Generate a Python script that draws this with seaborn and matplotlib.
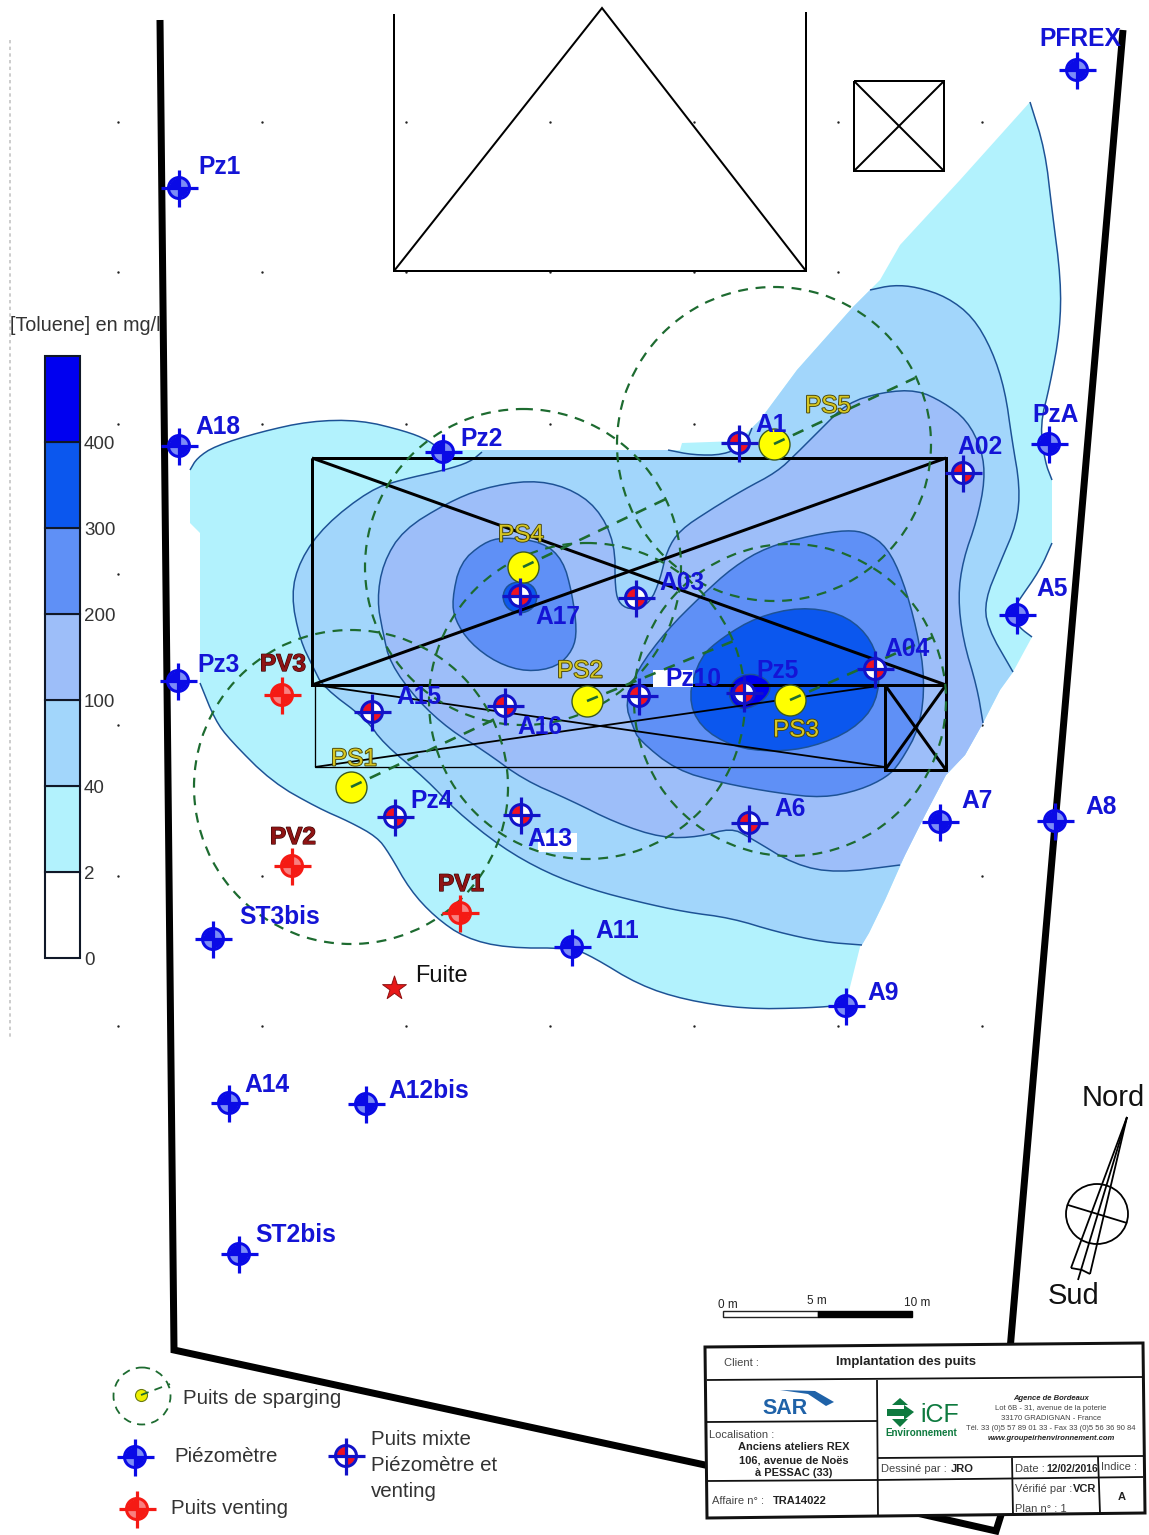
import numpy as np
import pandas as pd
import matplotlib
matplotlib.use("Agg")
import matplotlib.pyplot as plt
import matplotlib.patheffects as pe
from matplotlib.patches import Circle, Ellipse, Polygon, Rectangle
from matplotlib.path import Path
from matplotlib.transforms import ScaledTranslation
import seaborn as sns

# ---------- data (site plan coordinates) ----------
PIEZO_NAMES = ["PFREX","Pz1","A18","Pz2","PzA","Pz3","A5","A7","A8","ST3bis","A11","A9","A14","A12bis","ST2bis"]
PIEZO_X = [1077,179,179,443,1049,178,1017,940,1055,213,572,846,229,366,239]
PIEZO_Y = [70,188,446,452,444,681,615,822,821,939,947,1006,1103,1104,1254]
PIEZO_LX = [1040,199,196,461,1033,198,1037,962,1086,240,596,868,245,389,256]
PIEZO_LY = [37,166,425,437,414,664,587,799,806,916,929,991,1083,1089,1234]

MIXED_NAMES = ["A1","A02","A17","A03","A04","A15","A16","Pz10","Pz5","Pz4","A13","A6"]
MIXED_X = [739,963,520,636,875,372,505,639,744,395,521,749]
MIXED_Y = [443,473,596,598,669,712,706,696,693,817,815,823]
MIXED_LX = [756,958,536,660,885,397,518,666,757,411,528,775]
MIXED_LY = [423,445,616,582,647,696,726,678,669,800,838,808]

VENT_NAMES = ["PV3","PV2","PV1"]
VENT_X = [282,292,460]
VENT_Y = [695,866,913]
VENT_LX = [261,271,439]
VENT_LY = [663,836,883]

SPARGE_NAMES = ["PS1","PS2","PS3","PS4","PS5"]
SPARGE_X = [351,587,790,523,774]
SPARGE_Y = [787,701,700,567,444]
SPARGE_LX = [332,558,774,499,806]
SPARGE_LY = [758,670,729,534,405]
SPARGE_RADIUS = [157,158,156,158,157]
SPARGE_END_X = [510,736,933,670,915]
SPARGE_END_Y = [712,640,637,497,378]

GRID_X = [118,262,406,550,694,838,982]
GRID_Y = [122,272,424,574,725,876,1026]

LEVEL_LABELS = ["0","2","40","100","200","300","400"]
LEVEL_COLORS = ["#FFFFFF","#B2F2FD","#A2D6FB","#9DBEF9","#5F90F6","#0B57EE","#0000F0"]

C2_TOP = [(190,470),(197,458),(215,446),(260,432),(310,421),(360,420),(405,431),(428,440),(443,452)]
E2_TOP = [(443,450),(680,450),(682,443),(738,441),(760,420),(797,370),(853,307),(880,280),(900,245),(960,180),(1030,102)]
C2_RIGHT = [(1030,102),(1045,150),(1052,210),(1061,280),(1060,330),(1050,385),(1040,425),(1045,462),(1052,480)]
E2_RIGHT = [(1052,480),(1052,543)]
C2_A5 = [(1052,543),(1040,570),(1017,603),(1010,615),(1020,628),(1032,637)]
E_SOUTHEAST = [(1032,637),(1013,672),(1000,690),(983,723),(965,755),(946,775),(925,815),(905,855),(885,900),(869,933),(860,947),(855,967),(846,1003)]
C2_BOTTOM = [(846,1005),(809,1008),(745,1009),(685,1000),(639,985),(593,957),(572,948),(506,948),(465,938),(435,917),(410,890),(389,853),(377,837),(350,822),(318,808),(272,782),(230,740),(215,720),(200,683)]
E2_LEFT = [(200,683),(200,533),(190,523),(190,470)]

C40_LEFT = [(482,452),(470,462),(445,470),(400,480),(370,490),(325,525),(300,560),(291,595),(300,640),(313,667),(323,687),(367,720),(383,743),(427,780),(455,810),(501,847),(547,873),(593,890),(639,902),(685,912),(731,918),(777,932),(823,942),(862,945)]
E40_EAST = [(862,945),(869,933),(885,900),(905,855),(925,815),(946,775),(965,755),(983,723),(1000,690),(1013,672)]
C40_RIGHT = [(1013,672),(987,627),(985,600),(1000,563),(1017,523),(1020,487),(1012,440),(1005,390),(992,350),(973,317),(947,297),(917,287),(893,285),(870,290)]
E40_DIAG = [(870,290),(853,307),(797,370),(760,420),(752,428)]
C40_TOP = [(752,428),(745,445),(723,455),(693,455),(668,450)]
E40_TOP = [(668,450),(482,450)]

C100 = [(983,723),(977,687),(963,640),(958,597),(963,560),(977,520),(985,480),(982,450),(967,420),(943,402),(917,390),(883,392),(847,403),(820,430),(797,453),(777,472),(743,490),(710,510),(680,530),(667,550),(660,580),(650,603),(633,610),(620,605),(615,590),(615,543),(597,507),(567,487),(530,480),(483,488),(447,503),(403,530),(383,563),(377,600),(383,633),(390,663),(417,700),(450,730),(483,750),(524,780),(570,800),(616,823),(662,838),(699,837),(731,828),(749,837),(795,865),(837,873),(900,865)]
E100 = [(900,865),(925,815),(946,775),(965,755),(983,723)]

C200_WEST = [(452,600),(460,563),(483,543),(503,537),(543,542),(563,560),(572,593),(577,630),(573,650),(557,667),(527,672),(497,663),(470,643),(455,620)]
C200_EAST = [(847,530),(813,535),(767,547),(733,567),(700,597),(667,630),(637,670),(625,703),(633,727),(639,740),(676,770),(722,783),(777,793),(823,798),(860,790),(887,777),(900,763),(920,727),(925,680),(917,630),(903,580),(887,547),(867,533)]
C300 = [(688,697),(700,657),(723,637),(757,617),(800,607),(840,613),(867,633),(880,663),(877,703),(853,730),(813,747),(773,752),(733,747),(700,727)]
C300_A17 = [(502,597),(507,585),(520,581),(533,585),(538,597),(533,609),(520,614),(507,609)]
C400 = [(728,692),(735,678),(752,673),(768,680),(771,690),(762,702),(745,710),(733,705)]

# ---------- helpers ----------
PX = 0.72          # points per pixel at dpi 100
SANS = ["Liberation Sans", "DejaVu Sans"]

def smooth(points, closed=False, n=2):
    p = np.asarray(points, float)
    for _ in range(n):
        if closed:
            q = np.roll(p, -1, axis=0)
            p = np.column_stack([0.75*p + 0.25*q, 0.25*p + 0.75*q]).reshape(-1, 2)
        else:
            a, b = p[:-1], p[1:]
            mid = np.column_stack([0.75*a + 0.25*b, 0.25*a + 0.75*b]).reshape(-1, 2)
            p = np.vstack([p[:1], mid, p[-1:]])
    return p

sns.set_theme(style="white")
plt.rcParams["font.family"] = SANS
fig = plt.figure(figsize=(11.49, 15.35), dpi=100, facecolor="white")
ax = fig.add_axes([0, 0, 1, 1])

def txt(x, y, s, size=10, color="#222222", weight="normal", style="normal",
        ha="left", va="center", z=30, stroke=None, sw=0.9):
    t = ax.text(x - 1, y + 1.5, s, fontsize=size, color=color, fontweight=weight, fontstyle=style,
                ha=ha, va=va, zorder=z, family=SANS)
    if stroke:
        t.set_path_effects([pe.withStroke(linewidth=sw, foreground=stroke)])
    return t

def line(points, color="black", px=2.5, z=10, **kw):
    p = np.asarray(points, float)
    ax.plot(p[:, 0], p[:, 1], color=color, lw=px*PX, zorder=z,
            solid_capstyle="butt", solid_joinstyle="miter", **kw)

QUAD = Path.make_compound_path(Path.wedge(90, 180), Path.wedge(270, 360))

def well(xs, ys, main, fill, backing, z=14):
    df = pd.DataFrame({"x": xs, "y": ys})
    sns.scatterplot(data=df, x="x", y="y", ax=ax, marker="o", s=(19*PX)**2, color=backing,
                    edgecolor="none", linewidth=0, legend=False, zorder=z)
    sns.scatterplot(data=df, x="x", y="y", ax=ax, marker=QUAD, s=(19*PX)**2, color=fill,
                    edgecolor="none", linewidth=0, legend=False, zorder=z+0.1)
    sns.scatterplot(data=df, x="x", y="y", ax=ax, marker="o", s=(21*PX)**2, facecolor="none",
                    edgecolor=main, linewidth=3*PX, legend=False, zorder=z+0.2)
    sns.scatterplot(data=df, x="x", y="y", ax=ax, marker="+", s=(37*PX)**2, color=main,
                    linewidth=3.2*PX, legend=False, zorder=z+0.3)

# ---------- survey grid ----------
gx, gy = np.meshgrid(GRID_X, GRID_Y)
sns.scatterplot(x=gx.ravel(), y=gy.ravel(), ax=ax, s=3, color="#222222", linewidth=0,
                legend=False, zorder=1)

# ---------- concentration zones ----------
CONTOUR = dict(color="#1D5295", px=1.5, z=9)

def zone(pieces, level, z):
    """pieces: (points, is_curve); curves are smoothed and outlined, cut edges are not."""
    parts = []
    for pts, is_curve in pieces:
        p = smooth(pts) if is_curve else np.asarray(pts, float)
        parts.append(p)
        if is_curve:
            line(p, **CONTOUR)
    ax.add_patch(Polygon(np.vstack(parts), closed=True, facecolor=LEVEL_COLORS[level],
                         edgecolor="none", zorder=z))

def blob(points, level, z):
    p = smooth(points, closed=True)
    ax.add_patch(Polygon(p, closed=True, facecolor=LEVEL_COLORS[level],
                         edgecolor=CONTOUR["color"], lw=1.5*PX, zorder=z))

zone([(C2_TOP,1),(E2_TOP,0),(C2_RIGHT,1),(E2_RIGHT,0),(C2_A5,1),(E_SOUTHEAST,0),(C2_BOTTOM,1),(E2_LEFT,0)], 1, 2)
zone([(C40_LEFT,1),(E40_EAST,0),(C40_RIGHT,1),(E40_DIAG,0),(C40_TOP,1),(E40_TOP,0)], 2, 3)
zone([(C100,1),(E100,0)], 3, 4)
blob(C200_WEST, 4, 5)
blob(C200_EAST, 4, 5)
blob(C300, 5, 6)
blob(C300_A17, 5, 6)
blob(C400, 6, 7)

# ---------- site boundary ----------
line([(160,20),(174,1350),(705,1465),(996,1531),(1001,1515)], px=7, z=10)
line([(1123,30),(1010,1350)], px=7, z=10)

# ---------- buildings ----------
line([(394,14),(394,271),(806,271),(806,12)], px=2)
line([(394,271),(602,8),(806,271)], px=2)
line([(854,81),(944,81),(944,171),(854,171),(854,81)], px=2)
line([(854,81),(944,171)], px=2)
line([(944,81),(854,171)], px=2)
line([(312,458),(946,458),(946,685),(312,685),(312,458)], px=3)
line([(312,458),(946,685)], px=3)
line([(312,685),(946,458)], px=3)
line([(315,685),(315,767),(885,767)], px=1.3)
line([(315,685),(885,767)], px=1.8)
line([(315,767),(885,685)], px=1.8)
line([(885,685),(946,685),(946,770),(885,770),(885,685)], px=3)
line([(885,685),(946,770)], px=3)
line([(946,685),(885,770)], px=3)

# white label backings
ax.add_patch(Rectangle((653,670),40,17,facecolor="white",edgecolor="none",zorder=11))
ax.add_patch(Rectangle((538,833),39,19,facecolor="white",edgecolor="none",zorder=11))

# ---------- sparging influence circles ----------
GREEN = "#1D6B30"
DASH = (0,(4.5,3.5))
for cx, cy, r in zip(SPARGE_X, SPARGE_Y, SPARGE_RADIUS):
    ax.add_patch(Circle((cx, cy), r, facecolor="none", edgecolor=GREEN, lw=2.2*PX, linestyle=DASH, zorder=12))
sns.scatterplot(x=SPARGE_X, y=SPARGE_Y, ax=ax, s=(31*PX)**2, color="#FFFF00", edgecolor="#3C5A1E",
                linewidth=1, legend=False, zorder=13)
for cx, cy, ex, ey in zip(SPARGE_X, SPARGE_Y, SPARGE_END_X, SPARGE_END_Y):
    ax.plot([cx, ex], [cy, ey], color=GREEN, lw=2.6*PX, linestyle=DASH, zorder=13.5)

# ---------- wells ----------
well(PIEZO_X, PIEZO_Y, "#0A0AE6", "#0A0AE6", "#7C8CF6")
well(MIXED_X, MIXED_Y, "#1212C8", "#EE1122", "#FFFFFF")
well(VENT_X, VENT_Y, "#F51A14", "#F51A14", "#F88080")

BLUE = "#1414D6"
for n, x, y in zip(PIEZO_NAMES + MIXED_NAMES, PIEZO_LX + MIXED_LX, PIEZO_LY + MIXED_LY):
    txt(x, y, n, size=17.7, color=BLUE, weight="bold")
for n, x, y in zip(VENT_NAMES, VENT_LX, VENT_LY):
    txt(x, y, n, size=17.5, color="#8E1414", weight="bold", stroke="#3A0505")
for n, x, y in zip(SPARGE_NAMES, SPARGE_LX, SPARGE_LY):
    txt(x, y, n, size=17.5, color="#D6C622", weight="normal", stroke="#45450A", sw=1.3)

# leak
ax.scatter([394], [988], marker="*", s=(25*PX)**2, color="#E81818", edgecolor="#8E1010", linewidth=0.7, zorder=14)
txt(416, 975, "Fuite", size=17, color="#111111")

# ---------- concentration scale ----------
txt(11, 324, "[Toluene] en mg/l", size=14.2, color="#333333", z=5)
cax = fig.add_axes([45/1149, 1-958/1535, 35/1149, (958-356)/1535])
bars = cax.bar(x=[0]*7, height=[1]*7, bottom=np.arange(7), width=1, color=LEVEL_COLORS,
               edgecolor="#101828", linewidth=1.5)
for b in bars:
    b.set_clip_on(False)
cax.set_xlim(-0.5, 0.5)
cax.set_ylim(0, 7)
cax.set_xticks([])
cax.set_yticks(np.arange(7))
cax.set_yticklabels(LEVEL_LABELS, fontsize=13.5, color="#333333", family=SANS)
cax.yaxis.tick_right()
cax.tick_params(axis="y", length=0, pad=4)
shift = ScaledTranslation(-1.5/100, -2.5/100, fig.dpi_scale_trans)
for lab in cax.get_yticklabels():
    lab.set_verticalalignment("center")
    lab.set_transform(lab.get_transform() + shift)
sns.despine(ax=cax, left=True, right=True, top=True, bottom=True)
ax.plot([10, 10], [40, 1040], color="#C4C4C4", lw=1.2, linestyle=(0, (2, 2)), zorder=1)

# ---------- north arrow ----------
for end in [(1071,1268),(1090,1274),(1078,1280)]:
    line([(1127,1117), end], px=1.8, z=10)
line([(1071,1268),(1082,1270),(1090,1274)], px=1.8)
line([(1068,1205),(1127,1223)], px=1.8)
ax.add_patch(Ellipse((1097,1214), 62, 60, facecolor="none", edgecolor="black", lw=1.8*PX, zorder=10))
txt(1114, 1096, "Nord", size=21, color="#111111", ha="center")
txt(1075, 1295, "Sud", size=21, color="#111111", ha="center")

# ---------- scale bar ----------
ax.add_patch(Rectangle((723,1311),95,6,facecolor="white",edgecolor="#222222",lw=1,zorder=10))
ax.add_patch(Rectangle((818,1311),94,6,facecolor="black",edgecolor="black",lw=1,zorder=10))
txt(729, 1303, "0 m", size=8.5, ha="center")
txt(818, 1300, "5 m", size=8.5, ha="center")
txt(918, 1302, "10 m", size=8.5, ha="center")

# ---------- title block ----------
TB = 20
ax.add_patch(Polygon([(705,1347),(1143,1343),(1145,1513),(707,1518)], closed=True, facecolor="white",
                     edgecolor="#111111", lw=3*PX, zorder=TB))
for seg in [[(707,1380),(1143,1377)],[(877,1380),(878,1517)],[(707,1422),(877,1421)],[(707,1481),(877,1480)],
            [(878,1458),(1143,1456)],[(878,1480),(1143,1477)],[(1012,1458),(1013,1515)],[(1098,1457),(1100,1513)]]:
    line(seg, color="#111111", px=1.8, z=TB+1)

txt(725, 1362, "Client :", size=8, color="#444444")
txt(907, 1360, "Implantation des puits", size=9.5, weight="bold", ha="center", color="#222222")
txt(710, 1433, "Localisation :", size=8, color="#444444")
for yy, s in zip([1445,1459,1472], ["Anciens ateliers REX","106, avenue de Noës","à PESSAC (33)"]):
    txt(795, yy, s, size=8, weight="bold", ha="center")
txt(713, 1500, "Affaire n° :", size=8, color="#444444")
txt(774, 1500, "TRA14022", size=8, weight="bold")
txt(763, 1407, "SAR", size=15.5, weight="bold", color="#1F62A8")
ax.add_patch(Polygon([(780,1390),(815,1391),(834,1402),(826,1406),(808,1394)], closed=True, facecolor="#1F62A8", edgecolor="none", zorder=TB+2))
txt(921, 1413, "iCF", size=18, color="#0E7A3F")
txt(886, 1432, "Environnement", size=7.1, weight="bold", color="#0E7A3F")
GREEN_ICON = "#0E7A3F"
ax.add_patch(Polygon([(900,1398),(908,1405),(892,1405)], closed=True, facecolor=GREEN_ICON, edgecolor="none", zorder=TB+2))
ax.add_patch(Polygon([(887,1409),(904,1409),(904,1405),(914,1412),(904,1420),(904,1416),(887,1416)], closed=True, facecolor=GREEN_ICON, edgecolor="none", zorder=TB+2))
ax.add_patch(Polygon([(892,1419),(908,1419),(900,1427)], closed=True, facecolor=GREEN_ICON, edgecolor="none", zorder=TB+2))
txt(1052, 1397, "Agence de Bordeaux", size=5.5, weight="bold", style="italic", ha="center")
txt(1052, 1407, "Lot 6B - 31, avenue de la poterie", size=5.5, ha="center", color="#444444")
txt(1052, 1417, "33170 GRADIGNAN - France", size=5.5, ha="center", color="#444444")
txt(1052, 1427, "Tél. 33 (0)5 57 89 01 33 - Fax 33 (0)5 56 36 90 84", size=5.5, ha="center", color="#444444")
txt(1052, 1437, "www.groupeirhenvironnement.com", size=5.5, weight="bold", style="italic", ha="center")
txt(882, 1468, "Dessiné par :", size=8, color="#444444")
txt(952, 1468, "JRO", size=8, weight="bold")
txt(1016, 1467, "Date :", size=8, color="#444444")
txt(1047, 1467, "12/02/2016", size=7.5, weight="bold")
txt(1102, 1465, "Indice :", size=8, color="#444444")
txt(1016, 1488, "Vérifié par :", size=8, color="#444444")
txt(1074, 1488, "VCR", size=8, weight="bold")
txt(1016, 1507, "Plan n° : 1", size=8, color="#444444")
txt(1123, 1495, "A", size=8, weight="bold", ha="center")

# ---------- legend ----------
ax.add_patch(Circle((142,1396), 28.5, facecolor="none", edgecolor=GREEN, lw=1.8*PX, linestyle=DASH, zorder=10))
ax.scatter([141], [1395], s=(12*PX)**2, color="#EEF000", edgecolor="#6A7A10", linewidth=0.8, zorder=11)
ax.plot([141,170], [1395,1384], color=GREEN, lw=1.8*PX, linestyle=DASH, zorder=12)
well([135], [1457], "#0A0AE6", "#0A0AE6", "#7C8CF6")
well([137], [1509], "#F51A14", "#F51A14", "#F88080")
well([346], [1456], "#1212C8", "#EE1122", "#FFFFFF")
LEG = "#333333"
txt(184, 1397, "Puits de sparging", size=14.8, color=LEG)
txt(175, 1455, "Piézomètre", size=14.8, color=LEG)
txt(172, 1507, "Puits venting", size=14.8, color=LEG)
txt(372, 1438, "Puits mixte", size=14.8, color=LEG)
txt(372, 1464, "Piézomètre et", size=14.8, color=LEG)
txt(372, 1490, "venting", size=14.8, color=LEG)

ax.set_xlim(0, 1149)
ax.set_ylim(1535, 0)
ax.axis("off")
fig.savefig("out.png", dpi=100, facecolor="white")
